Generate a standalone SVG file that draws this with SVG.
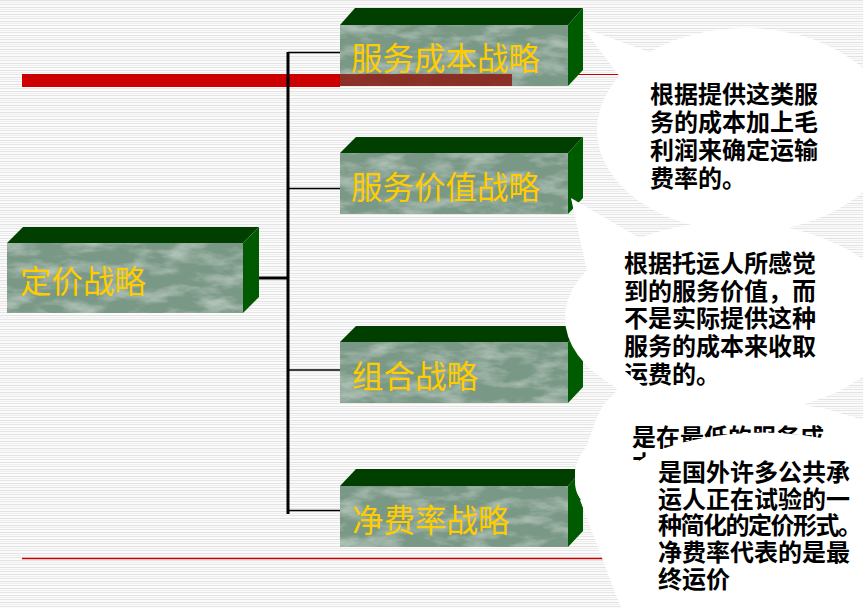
<svg xmlns="http://www.w3.org/2000/svg" width="863" height="608" viewBox="0 0 863 608">
<defs>
<pattern id="stripes" width="8" height="7" patternUnits="userSpaceOnUse">
<rect width="8" height="7" fill="#fbfbfb"/>
<rect y="0" width="8" height="1" fill="#e2e2e2"/>
<rect y="2" width="8" height="1" fill="#eeeeee"/>
<rect y="4" width="8" height="1" fill="#e6e6e6"/>
</pattern>
<filter id="marble" x="0" y="0" width="100%" height="100%">
<feTurbulence type="fractalNoise" baseFrequency="0.03 0.08" numOctaves="4" seed="7" result="n"/>
<feColorMatrix in="n" type="matrix" values="0 0 0 0 0.74  0 0 0 0 0.84  0 0 0 0 0.78  1.0 0 0 0 -0.42" result="spots"/>
<feComposite in="spots" in2="SourceGraphic" operator="atop"/>
</filter>
<style>
.front{fill:#7a9886;filter:url(#marble)}
.top{fill:#003f00}
.side{fill:#005a00}
.label{font-family:"Noto Sans CJK SC","Noto Sans CJK TC",sans-serif;font-size:31.5px;fill:#ffcc00}
.note{font-family:"Noto Sans CJK SC","Noto Sans CJK TC",sans-serif;font-size:24px;font-weight:bold;fill:#000}
.bubble{fill:#ffffff}
.conn{stroke:#000;fill:none}
</style>
</defs>
<rect width="863" height="608" fill="url(#stripes)"/>
<g id="template-lines">
<line x1="22" y1="74.5" x2="863" y2="74.5" stroke="#cc0000" stroke-width="1.2"/>
<line x1="22" y1="558.5" x2="863" y2="558.5" stroke="#cc0000" stroke-width="1.5"/>
<rect x="22" y="74" width="318" height="13" fill="#cc0000"/>
</g>
<g id="connectors">
<line class="conn" x1="288" y1="52" x2="288" y2="514" stroke-width="3"/>
<line class="conn" x1="288" y1="52.5" x2="340" y2="52.5" stroke-width="1.5"/>
<line class="conn" x1="288" y1="188.5" x2="340" y2="188.5" stroke-width="1.5"/>
<line class="conn" x1="258" y1="278" x2="288" y2="278" stroke-width="3"/>
<line class="conn" x1="288" y1="370" x2="340" y2="370" stroke-width="1.5"/>
<line class="conn" x1="288" y1="510.5" x2="340" y2="510.5" stroke-width="1.5"/>
</g>
<g id="node-pricing">
<rect class="front" x="7" y="243" width="236" height="70"/>
<polygon class="top" points="7,243 23,227 259,227 243,243"/>
<polygon class="side" points="243,243 259,227 259,297 243,313"/>
<text class="label" x="20" y="293">定价战略</text>
</g>
<g id="node-cost">
<rect class="front" x="340" y="25" width="228" height="61"/>
<polygon class="top" points="340,25 355,8 583,8 568,25"/>
<polygon class="side" points="568,25 583,8 583,70 568,86"/>
<rect x="340" y="74" width="172" height="12" fill="#8c1c14" opacity="0.85"/>
<text class="label" x="351" y="70">服务成本战略</text>
</g>
<g id="node-value">
<rect class="front" x="340" y="153" width="228" height="61"/>
<polygon class="top" points="340,153 356,137 583,137 568,153"/>
<polygon class="side" points="568,153 583,137 583,198 568,214"/>
<text class="label" x="351" y="199">服务价值战略</text>
</g>
<g id="node-combo">
<rect class="front" x="340" y="342" width="228" height="61"/>
<polygon class="top" points="340,342 356,326 583,326 568,342"/>
<polygon class="side" points="568,342 583,326 583,387 568,403"/>
<text class="label" x="352" y="388">组合战略</text>
</g>
<g id="node-net">
<rect class="front" x="340" y="486" width="228" height="61"/>
<polygon class="top" points="340,486 356,469 583,469 568,486"/>
<polygon class="side" points="568,486 583,469 583,531 568,547"/>
<text class="label" x="352" y="532">净费率战略</text>
</g>
<g id="callout-cost">
<ellipse class="bubble" cx="745" cy="130" rx="148" ry="102"/>
<polygon class="bubble" points="583,28 660,56 645,110"/>
<text class="note"><tspan x="650" y="103">根据提供这类服</tspan><tspan x="650" y="131">务的成本加上毛</tspan><tspan x="650" y="159">利润来确定运输</tspan><tspan x="650" y="187">费率的。</tspan></text>
</g>
<g id="callout-value">
<ellipse class="bubble" cx="731" cy="318" rx="166" ry="96"/>
<polygon class="bubble" points="571,198 660,250 590,285"/>
<text class="note"><tspan x="624" y="272">根据托运人所感觉</tspan><tspan x="624" y="300">到的服务价值，而</tspan><tspan x="624" y="327">不是实际提供这种</tspan><tspan x="624" y="355">服务的成本来收取</tspan><tspan x="624" y="383">运费的。</tspan></text>
</g>
<g id="callout-combo">
<path class="bubble" d="M566,322 L650,392 C700,398 780,402 823,408 L863,420 L890,430 L890,560 L700,560 L600,505 L583,502 C578,497 575,490 575,482 L575,470 C577,460 582,452 587,445 L595,422 C600,410 605,402 610,398 L617,390 Z"/>
<text class="note"><tspan x="632" y="446">是在最低的服务成</tspan><tspan x="632" y="473">本上</tspan></text>
</g>
<g id="callout-net">
<path class="bubble" d="M580,500 L648,455 A160,75 0 0 1 922,508 L922,650 L637,650 Z"/>
<text class="note"><tspan x="658" y="481">是国外许多公共承</tspan><tspan x="658" y="508">运人正在试验的一</tspan><tspan x="658" y="534" textLength="204" lengthAdjust="spacing">种简化的定价形式。</tspan><tspan x="658" y="561">净费率代表的是最</tspan><tspan x="658" y="588">终运价</tspan></text>
</g>
</svg>
